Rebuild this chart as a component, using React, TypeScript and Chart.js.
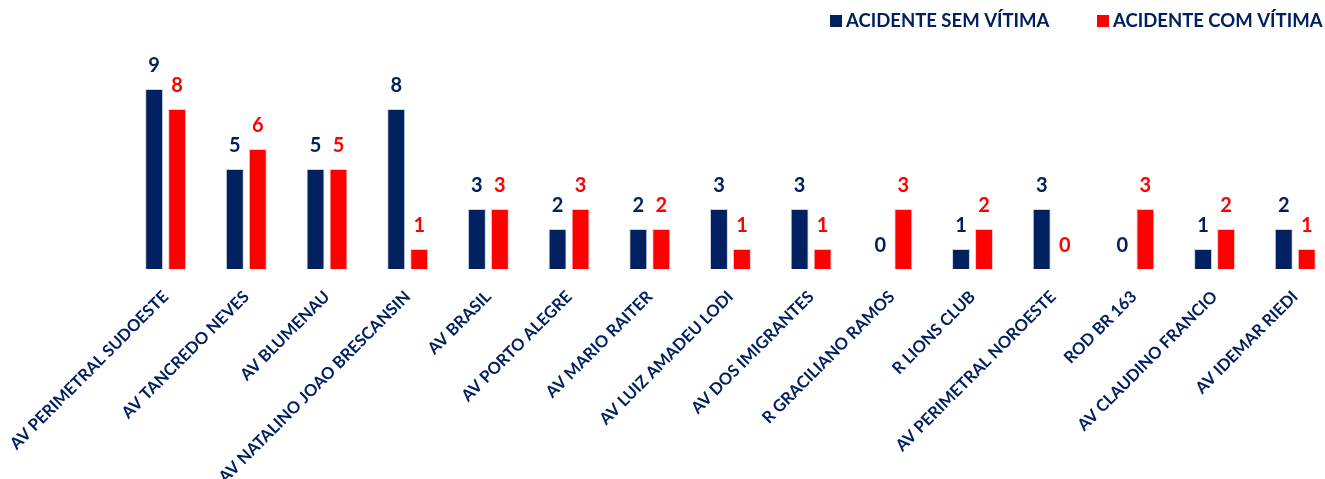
import React, { useEffect, useRef } from "react";
import { Chart, registerables } from "chart.js";

Chart.register(...registerables);

const categories = [
  "AV PERIMETRAL SUDOESTE",
  "AV TANCREDO NEVES",
  "AV BLUMENAU",
  "AV NATALINO JOAO BRESCANSIN",
  "AV BRASIL",
  "AV PORTO ALEGRE",
  "AV MARIO RAITER",
  "AV LUIZ AMADEU LODI",
  "AV DOS IMIGRANTES",
  "R GRACILIANO RAMOS",
  "R LIONS CLUB",
  "AV PERIMETRAL NOROESTE",
  "ROD BR 163",
  "AV CLAUDINO FRANCIO",
  "AV IDEMAR RIEDI",
];
const semVitima = [9, 5, 5, 8, 3, 2, 2, 3, 3, 0, 1, 3, 0, 1, 2];
const comVitima = [8, 6, 5, 1, 3, 3, 2, 1, 1, 3, 2, 0, 3, 2, 1];
const seriesNames = ["ACIDENTE SEM VÍTIMA", "ACIDENTE COM VÍTIMA"];

const NAVY = "#002060";
const RED = "#FF0000";
const FONT = "Lato, 'Open Sans', sans-serif";

const valueLabels = {
  id: "valueLabels",
  afterDatasetsDraw(chart: any) {
    const ctx = chart.ctx;
    ctx.save();
    ctx.font = `bold 20px ${FONT}`;
    ctx.textAlign = "center";
    ctx.textBaseline = "alphabetic";
    chart.data.datasets.forEach((ds: any, di: number) => {
      const meta = chart.getDatasetMeta(di);
      ctx.fillStyle = ds.backgroundColor;
      meta.data.forEach((bar: any, i: number) => {
        ctx.fillText(String(ds.data[i]), bar.x, bar.y - 17);
      });
    });
    ctx.restore();
  },
};

const customLegend = {
  id: "customLegend",
  afterDraw(chart: any) {
    const ctx = chart.ctx;
    ctx.save();
    ctx.font = `bold 18.5px ${FONT}`;
    ctx.textBaseline = "alphabetic";
    const starts = [830, 1097];
    chart.data.datasets.forEach((ds: any, di: number) => {
      const x = starts[di];
      ctx.fillStyle = ds.backgroundColor;
      ctx.fillRect(x, 15, 12, 12);
      ctx.fillStyle = NAVY;
      ctx.fillText(ds.label, x + 16, 27);
    });
    ctx.restore();
  },
};

export default function App() {
  const ref = useRef<HTMLCanvasElement>(null);
  useEffect(() => {
    document.body.style.overflow = "hidden";
    const chart = new Chart(ref.current!, {
      type: "bar",
      data: {
        labels: categories,
        datasets: [
          {
            label: seriesNames[0],
            data: semVitima,
            backgroundColor: NAVY,
            borderColor: "#c9d3e6",
            borderWidth: (c: any) => (c.raw === 0 ? 0 : 1),
            categoryPercentage: 0.57,
            barPercentage: 0.78,
          },
          {
            label: seriesNames[1],
            data: comVitima,
            backgroundColor: RED,
            borderColor: "#f4c6c6",
            borderWidth: (c: any) => (c.raw === 0 ? 0 : 1),
            categoryPercentage: 0.57,
            barPercentage: 0.78,
          },
        ],
      },
      options: {
        responsive: false,
        animation: false,
        devicePixelRatio: 1,
        layout: { padding: { left: 125.3, right: 9.4, top: 69, bottom: 0 } },
        plugins: {
          legend: { display: false },
          tooltip: { enabled: false },
        },
        scales: {
          y: { display: false, min: 0, max: 10 },
          x: {
            grid: { display: false },
            border: { display: false },
            ticks: {
              autoSkip: false,
              maxRotation: 45,
              minRotation: 45,
              color: NAVY,
              padding: 10,
              font: { family: FONT, weight: "bold", size: 16.5 },
            },
            afterFit: (s: any) => {
              s.height = 210;
              s.paddingLeft = 0;
              s.paddingRight = 0;
            },
          },
        },
      },
      plugins: [valueLabels, customLegend],
    });
    return () => chart.destroy();
  }, []);
  return (
    <div style={{ position: "absolute", left: 0, top: 0, width: 1345, height: 479 }}>
      <canvas ref={ref} width={1345} height={479} style={{ width: 1345, height: 479 }} />
    </div>
  );
}
